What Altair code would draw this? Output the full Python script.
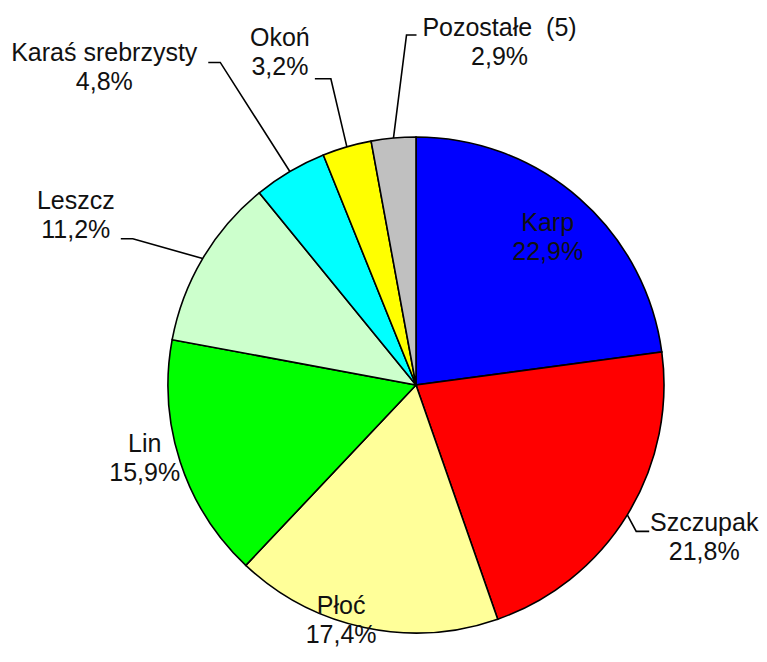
import math
import altair as alt
import pandas as pd

# ---- data ----
species = ["Karp", "Szczupak", "Płoć", "Lin", "Leszcz", "Karaś srebrzysty", "Okoń", "Pozostałe\u00a0 (5)"]
shares = [22.9, 21.8, 17.4, 15.9, 11.2, 4.8, 3.2, 2.9]
colors = ["#0000FF", "#FF0000", "#FFFF99", "#00FF00", "#CCFFCC", "#00FFFF", "#FFFF00", "#C0C0C0"]

# ---- layout ----
CX, CY, R = 408, 377, 248
FS, LH = 25, 29
label_radius = [198, 326, 247, 281, 380, 445, 359, 353]
label_nudge = [0.5, -3.7, 5.6, 3.0, -4.2, -13.9, -6.1, 18.9]
# leader: (elbow dx, elbow dy, end dx) relative to label centre; None = no leader
leader_offsets = [None, (-68, -6, -55), None, None, (57, 23, 45), (116, -5, 104), (51, 26, 35), (-93, -7, -83)]

total = sum(shares)
cum = 0.0
mid_angles = []
for s in shares:
    mid_angles.append((cum + s / 2) / total * 360.0)
    cum += s

def pt(angle_deg, r):
    a = math.radians(angle_deg)
    return CX + r * math.sin(a), CY - r * math.cos(a)

share_text = [f"{v:.1f}".replace(".", ",") + "%" for v in shares]

pie_df = pd.DataFrame({"species": species, "share": shares, "order": list(range(len(species)))})

lab_rows = []
line_rows = []
for i, sp in enumerate(species):
    lx, ly = pt(mid_angles[i] + label_nudge[i], label_radius[i])
    lab_rows.append({"species": sp, "x": lx, "y": ly - LH / 2, "label": sp + "\n" + share_text[i]})
    off = leader_offsets[i]
    if off is not None:
        ax, ay = pt(mid_angles[i], R)
        ex, ey = lx + off[0], ly + off[1]
        tx = lx + off[2]
        line_rows += [
            {"species": sp, "step": 0, "x": ax, "y": ay},
            {"species": sp, "step": 1, "x": ex, "y": ey},
            {"species": sp, "step": 2, "x": tx, "y": ey},
        ]

lab_df = pd.DataFrame(lab_rows)
line_df = pd.DataFrame(line_rows)

pie = alt.Chart(pie_df).mark_arc(radius=R, stroke="black", strokeWidth=1.6).encode(
    theta=alt.Theta("share:Q", stack=True),
    order=alt.Order("order:Q"),
    color=alt.Color("species:N", scale=alt.Scale(domain=species, range=colors), legend=None),
    x=alt.value(CX),
    y=alt.value(CY),
)

leaders = alt.Chart(line_df).mark_line(color="black", strokeWidth=1.6).encode(
    x=alt.X("x:Q", scale=None, axis=None),
    y=alt.Y("y:Q", scale=None, axis=None),
    detail="species:N",
    order="step:Q",
)

labels = alt.Chart(lab_df).mark_text(
    lineBreak="\n", fontSize=FS, font="Liberation Sans", lineHeight=LH,
    align="center", baseline="middle", color="#111111",
).encode(
    x=alt.X("x:Q", scale=None, axis=None),
    y=alt.Y("y:Q", scale=None, axis=None),
    text="label:N",
)

chart = alt.layer(pie, leaders, labels).properties(
    width=751, height=643, autosize="none", padding=0,
).configure_view(stroke=None)

chart.save("out.html", embed_options={"renderer": "svg", "actions": False})
